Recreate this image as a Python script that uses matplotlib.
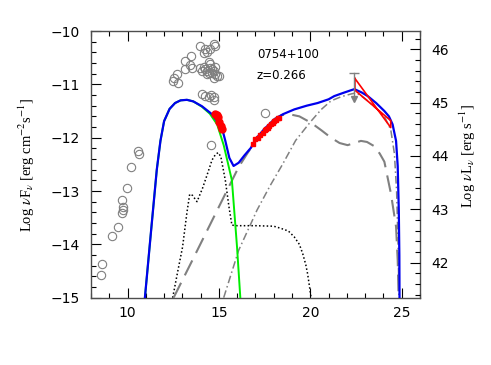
import matplotlib
matplotlib.use("Agg")
import matplotlib.pyplot as plt
from matplotlib.ticker import MultipleLocator

plt.rcParams['mathtext.fontset'] = 'stix'

# ---------------- data ----------------
blue_x = [10.95, 11.3, 11.6, 11.8, 12.0, 12.3, 12.6, 12.9, 13.25, 13.6, 14.07, 14.62, 15.16, 15.35,
          15.57, 15.8, 16.08, 16.4, 16.75, 17.0, 17.5, 18.03, 18.5, 19.12, 19.8, 20.4, 21.0, 21.31,
          21.8, 22.23, 22.41, 22.8, 23.14, 23.6, 24.05, 24.3, 24.5, 24.69, 24.78, 24.84, 24.87, 24.88]
blue_y = [-15.0, -13.7, -12.6, -12.06, -11.69, -11.46, -11.35, -11.3, -11.29, -11.32, -11.41, -11.56,
          -11.81, -12.06, -12.38, -12.53, -12.47, -12.33, -12.19, -12.03, -11.83, -11.66, -11.56,
          -11.47, -11.4, -11.35, -11.28, -11.22, -11.16, -11.11, -11.09, -11.15, -11.22, -11.35,
          -11.5, -11.6, -11.75, -12.06, -12.53, -13.36, -14.2, -15.0]

green_x = [10.95, 11.3, 11.6, 11.8, 12.0, 12.3, 12.6, 12.9, 13.25, 13.6, 14.07, 14.5, 14.9, 15.26,
           15.48, 15.71, 15.99, 16.17]
green_y = [-15.0, -13.7, -12.6, -12.06, -11.69, -11.46, -11.35, -11.3, -11.29, -11.32, -11.42, -11.55,
           -11.75, -12.14, -12.46, -12.8, -14.05, -15.0]

dot_x = [12.47, 12.75, 13.01, 13.25, 13.4, 13.55, 13.8, 14.1, 14.4, 14.62, 14.8, 14.95, 15.1, 15.35,
         15.55, 15.71, 16.0, 17.0, 18.0, 18.39, 18.8, 19.12, 19.4, 19.58, 19.75, 19.85, 19.95, 20.04]
dot_y = [-15.0, -14.5, -14.05, -13.4, -13.06, -13.08, -13.2, -12.95, -12.65, -12.42, -12.32, -12.28,
         -12.35, -12.8, -13.3, -13.64, -13.65, -13.65, -13.66, -13.7, -13.75, -13.86, -14.0, -14.17,
         -14.38, -14.55, -14.78, -15.0]

dash_x = [12.52, 13.5, 14.5, 15.5, 16.08, 16.6, 17.2, 17.6, 18.03, 18.4, 18.85, 19.4, 20.04, 20.6,
          21.13, 21.6, 22.04, 22.4, 22.77, 23.1, 23.5, 23.8, 24.05, 24.41, 24.69, 24.78, 24.83]
dash_y = [-15.0, -14.33, -13.64, -12.95, -12.55, -12.27, -11.97, -11.8, -11.65, -11.58, -11.56, -11.6,
          -11.72, -11.86, -12.0, -12.1, -12.14, -12.1, -12.06, -12.08, -12.16, -12.3, -12.45, -13.05,
          -13.67, -14.3, -15.0]

dd_x = [15.26, 16.08, 16.75, 17.08, 17.8, 18.48, 19.2, 20.04, 20.6, 21.13, 21.7, 22.23, 22.5, 22.8,
        23.14, 23.6, 24.05, 24.4, 24.6, 24.72, 24.8, 24.85]
dd_y = [-15.0, -14.11, -13.61, -13.36, -12.9, -12.5, -12.05, -11.69, -11.47, -11.31, -11.23, -11.18,
        -11.16, -11.22, -11.31, -11.45, -11.6, -11.85, -12.3, -13.0, -14.0, -15.0]

# archival data (open grey circles)
arch_x = [10.55, 10.64, 10.18, 9.95, 9.69, 9.73, 9.73, 9.69, 9.46, 9.14, 8.63, 8.54,
          12.52, 12.7, 12.47, 12.76, 13.12, 13.48, 13.43, 13.52, 13.12,
          13.98, 14.25, 14.34, 14.52, 14.71, 14.8, 14.16,
          14.44, 13.98, 14.16, 14.25, 14.34, 14.44, 14.52, 14.62, 14.71, 14.8, 14.89, 14.98,
          14.62, 14.71, 14.34, 14.07, 14.8, 14.52,
          14.07, 14.25, 14.44, 14.58, 14.71, 14.71, 14.58, 17.53]
arch_y = [-12.25, -12.31, -12.55, -12.95, -13.16, -13.3, -13.36, -13.42, -13.68, -13.84, -14.36, -14.58,
          -10.88, -10.81, -10.94, -10.98, -10.56, -10.46, -10.64, -10.69, -10.72,
          -10.28, -10.34, -10.39, -10.34, -10.25, -10.28, -10.41,
          -10.59, -10.69, -10.68, -10.72, -10.75, -10.78, -10.69, -10.72, -10.75, -10.81, -10.84, -10.84,
          -10.78, -10.88, -10.81, -10.75, -10.68, -10.62,
          -11.19, -11.21, -11.23, -11.2, -11.24, -11.3, -12.13, -11.54]

# simultaneous optical/UV (red filled)
opt_x = [14.8, 14.9, 14.95, 14.98, 15.13, 15.18]
opt_y = [-11.55, -11.58, -11.61, -11.7, -11.79, -11.83]

# X-ray (red)
xr_x = [16.84, 16.99, 17.12, 17.25, 17.39, 17.5, 17.57, 17.66, 17.76, 17.85, 17.94, 18.03, 18.12, 18.21, 18.3]
xr_y = [-12.11, -12.03, -12.0, -11.95, -11.91, -11.86, -11.84, -11.81, -11.78, -11.75, -11.72, -11.69,
        -11.66, -11.64, -11.63]

# Fermi bow-tie
bt_x = [22.44, 24.4, 24.4, 22.44, 22.44]
bt_y = [-10.89, -11.81, -11.68, -11.11, -10.89]

# upper limit
ul_x = 22.41
ul_top = -10.79
ul_bot = -11.27

offset = 56.343  # log nuL_nu - log nuF_nu

# ---------------- plot ----------------
fig = plt.figure(figsize=(4.91, 3.65), dpi=100)
ax = fig.add_axes([0.1853, 0.1844, 0.6701, 0.7306])

ax.plot(arch_x, arch_y, 'o', mfc='none', mec='#808080', ms=6, mew=0.8, zorder=2)
ax.plot(dot_x, dot_y, color='black', ls=(0, (1, 1.5)), lw=1.1, zorder=3)
ax.plot(dash_x, dash_y, color='#808080', ls=(0, (8, 4)), lw=1.5, zorder=3)
ax.plot(dd_x, dd_y, color='#808080', ls=(0, (5, 2, 1, 2)), lw=1.1, zorder=3)
ax.plot(green_x, green_y, color='#00ee00', lw=1.4, zorder=4)
ax.plot(blue_x, blue_y, color='#0000ee', lw=1.6, zorder=5)
ax.plot(opt_x, opt_y, 'o', color='red', ms=5, zorder=6)
ax.plot(xr_x, xr_y, 's', color='red', ms=3, zorder=6)
ax.plot(bt_x, bt_y, color='red', lw=1.2, zorder=6)
ax.plot([ul_x, ul_x], [ul_top, ul_bot], color='#808080', lw=1.0, zorder=6)
ax.plot([ul_x], [ul_top], marker='_', color='#808080', ms=7, mew=1.0, zorder=6)
ax.plot([ul_x], [ul_bot], marker='v', color='#808080', ms=5, zorder=6)

ax.text(17.08, -10.44, '0754+100', fontsize=8.5, va='center', ha='left')
ax.text(17.08, -10.83, 'z=0.266', fontsize=8.5, va='center', ha='left')

ax.set_xlim(8, 26)
ax.set_ylim(-15, -10)
ax.xaxis.set_major_locator(MultipleLocator(5))
ax.xaxis.set_minor_locator(MultipleLocator(1))
ax.yaxis.set_major_locator(MultipleLocator(1))
ax.yaxis.set_minor_locator(MultipleLocator(0.2))
ax.tick_params(which='both', direction='in', top=True, right=False, labelsize=10)
ax.tick_params(axis='y', pad=8)
ax.tick_params(axis='x', pad=6)
ax.tick_params(which='major', length=7, width=0.8)
ax.tick_params(which='minor', length=3.5, width=0.8)
for s in ax.spines.values():
    s.set_color('0.3')
    s.set_linewidth(1.0)

ax.set_ylabel(r'Log $\nu$F$_\nu$ [erg cm$^{-2}$s$^{-1}$]', family='Liberation Serif', fontsize=10.5)
ax.yaxis.set_label_coords(-0.165, 0.5)

ax2 = ax.twinx()
ax2.set_ylim(-15 + offset, -10 + offset)
ax2.yaxis.set_major_locator(MultipleLocator(1))
ax2.yaxis.set_minor_locator(MultipleLocator(0.2))
ax2.tick_params(which='both', direction='in', labelsize=10, pad=8)
ax2.tick_params(which='major', length=7, width=0.8)
ax2.tick_params(which='minor', length=3.5, width=0.8)
for s in ax2.spines.values():
    s.set_visible(False)
ax2.set_ylabel(r'Log $\nu$L$_\nu$ [erg s$^{-1}$]', family='Liberation Serif', fontsize=10.5)
ax2.yaxis.set_label_coords(1.115, 0.53)

fig.savefig('out.png', dpi=100)
